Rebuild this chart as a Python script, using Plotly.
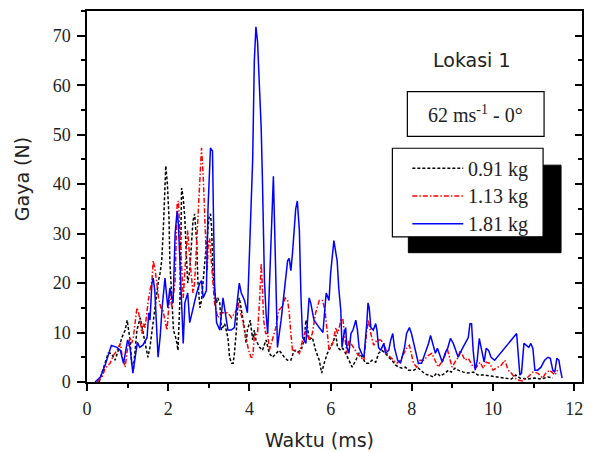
import plotly.graph_objects as go

# ---------------- data ----------------
t_091 = [0.3, 0.37, 0.45, 0.52, 0.6, 0.69, 0.77, 0.86, 0.94, 0.99, 1.06, 1.1, 1.14, 1.18, 1.23, 1.31, 1.36, 1.43, 1.5, 1.55,
         1.6, 1.63, 1.7, 1.76, 1.8, 1.84, 1.88, 1.92, 1.94, 1.98, 2.02, 2.04, 2.09, 2.13, 2.2, 2.24, 2.29, 2.33, 2.37, 2.41,
         2.45, 2.48, 2.53, 2.57, 2.61, 2.65, 2.7, 2.73, 2.78, 2.82, 2.86, 2.93, 2.96, 3.0, 3.04, 3.07, 3.1, 3.14, 3.19, 3.22,
         3.27, 3.31, 3.39, 3.47, 3.51, 3.56, 3.6, 3.63, 3.68, 3.71, 3.75, 3.8, 3.86, 3.92, 3.95, 4.02, 4.08, 4.12, 4.16, 4.25,
         4.32, 4.41, 4.49, 4.57, 4.65, 4.73, 4.79, 4.86, 4.94, 5.02, 5.1, 5.18, 5.27, 5.35, 5.39, 5.43, 5.47, 5.55, 5.63, 5.72,
         5.78, 5.84, 5.92, 6.0, 6.08, 6.13, 6.17, 6.25, 6.3, 6.37, 6.45, 6.53, 6.62, 6.7, 6.78, 6.86, 6.94, 7.02, 7.11, 7.18,
         7.26, 7.35, 7.43, 7.51, 7.6, 7.68, 7.76, 7.84, 7.92, 8.04, 8.16, 8.22, 8.33, 8.42, 8.53, 8.61, 8.7, 8.82, 8.9, 8.97,
         9.06, 9.14, 9.27, 9.39, 9.51, 9.63, 9.8, 9.95, 10.12, 10.29, 10.45, 10.56, 10.66, 10.86, 11.03, 11.18, 11.35, 11.47]
f_091 = [0, 1.8, 3.8, 5.8, 5.8, 4.4, 6.4, 9, 10.5, 12.5, 8.5, 3.8, 2.4, 6.4, 10.5, 13, 11, 7.8, 5, 7,
         10.5, 12.5, 17, 20.5, 22, 24.5, 31, 39.2, 43.7, 40, 33, 24.5, 15, 10.5, 8.5, 6.4, 17, 39.2, 37.2, 33,
         25, 20, 22.5, 28.6, 32.6, 34, 28.6, 20.5, 15, 16.5, 21, 27, 29, 33, 34, 31, 22.5, 18.5, 16, 17,
         16, 10.5, 11.8, 9, 5, 3.8, 3.8, 5.8, 10.5, 15, 17, 14.5, 11.8, 7.8, 10.5, 12.5, 8.5, 10.5, 8.5, 7,
         6.4, 8.5, 5.8, 5, 5.8, 6.4, 5.8, 5, 4.4, 4.4, 6.4, 6, 6.4, 8.5, 12.5, 11, 8.5, 9, 6.4, 4.4,
         1.8, 3.8, 5.8, 7, 8.5, 9.5, 7, 6.4, 6.8, 5.8, 4.4, 3, 4.4, 5.8, 5, 3.8, 3.8, 4.4, 4, 5.8,
         6.4, 5.8, 5, 4.4, 3.4, 3, 2.8, 3, 2.4, 2.4, 2.8, 2.4, 1.6, 1.4, 1, 1.8, 1.2, 1.8, 2.4, 2,
         2.8, 2.4, 2, 1.8, 2, 1.4, 1.4, 1.2, 1, 0.8, 0.6, 1.4, 0.8, 0.6, 0.8, 0.6, 1, 0.8]

t_113 = [0.25, 0.37, 0.45, 0.57, 0.65, 0.74, 0.82, 0.87, 0.94, 1.0, 1.06, 1.1, 1.14, 1.18, 1.23, 1.27, 1.31, 1.35, 1.39, 1.43,
         1.47, 1.51, 1.55, 1.6, 1.63, 1.67, 1.72, 1.76, 1.82, 1.87, 1.97, 2.04, 2.09, 2.17, 2.22, 2.25, 2.29, 2.33, 2.37, 2.41,
         2.45, 2.48, 2.53, 2.57, 2.61, 2.65, 2.71, 2.75, 2.79, 2.82, 2.86, 2.89, 2.93, 2.96, 2.99, 3.02, 3.07, 3.1, 3.14, 3.22,
         3.31, 3.39, 3.47, 3.56, 3.68, 3.71, 3.75, 3.83, 3.9, 3.98, 4.04, 4.08, 4.12, 4.2, 4.25, 4.29, 4.32, 4.35, 4.4, 4.45,
         4.49, 4.57, 4.65, 4.72, 4.78, 4.84, 4.88, 4.94, 4.98, 5.02, 5.06, 5.14, 5.23, 5.31, 5.39, 5.47, 5.55, 5.63, 5.72, 5.8,
         5.86, 5.92, 5.96, 6.05, 6.13, 6.17, 6.2, 6.25, 6.3, 6.35, 6.4, 6.45, 6.5, 6.57, 6.65, 6.74, 6.82, 6.89, 6.93, 6.99,
         7.06, 7.14, 7.23, 7.31, 7.39, 7.47, 7.55, 7.63, 7.72, 7.8, 7.88, 7.94, 7.99, 8.04, 8.12, 8.2, 8.29, 8.41, 8.49, 8.58,
         8.65, 8.73, 8.8, 8.87, 8.93, 8.99, 9.06, 9.14, 9.19, 9.25, 9.31, 9.39, 9.45, 9.51, 9.59, 9.68, 9.76, 9.83, 9.91, 10.0,
         10.12, 10.2, 10.29, 10.37, 10.45, 10.54, 10.61, 10.73, 10.86, 10.98, 11.1, 11.22, 11.3, 11.39, 11.45, 11.52, 11.59]
f_113 = [0, 1, 2.8, 3.8, 5.4, 6.4, 7.8, 5, 3, 7, 9, 7.8, 9, 11.8, 15, 14, 12.5, 9.8, 11.8, 11,
         14.5, 16.5, 18.5, 20.5, 24.5, 23, 20, 17, 15, 14.5, 10.5, 18, 15, 20.5, 36, 36.6, 30, 22.5, 17, 22.5,
         27, 30.6, 25, 21, 18, 20, 30.6, 38, 44, 47.3, 42, 34, 27, 22.5, 28.6, 29, 24, 20.5, 16, 13,
         14, 14, 14, 13, 14.5, 16, 15, 12.5, 9.8, 6.4, 5, 5, 9, 9.8, 16.5, 24, 19, 12.5, 9.8, 9.8,
         6.4, 9, 11, 14.5, 15, 16, 17, 16.5, 14, 9.8, 6.4, 6.4, 5.8, 8.5, 10.5, 8.5, 9.8, 14, 16.5, 16.5,
         14.5, 9.8, 6.4, 7.8, 11, 9.8, 10.5, 12.5, 12.8, 9, 5.8, 8.5, 7.8, 7, 5.8, 5, 4.4, 10.5, 12.5, 9.8,
         7.4, 8.5, 8.5, 7.8, 5.8, 5, 4.4, 3.8, 4.4, 5.8, 7, 7.4, 5.8, 3.8, 3, 4.4, 4.4, 5.4, 5.8, 4,
         3, 4, 5, 6.8, 4.8, 3, 4, 5, 6.4, 5.4, 4.4, 4.8, 3.8, 3, 3, 4, 2.8, 4, 3.8, 2.4,
         3, 3.4, 4.4, 2.4, 1.8, 0.8, 0.4, 0.2, 1, 2, 1.8, 0.8, 1.8, 2.4, 2, 1.4, 2.4]

t_181 = [0.2, 0.33, 0.45, 0.6, 0.74, 0.82, 0.9, 1.0, 1.06, 1.13, 1.24, 1.3, 1.38, 1.48, 1.52, 1.55, 1.6, 1.63, 1.67, 1.75,
         1.8, 1.85, 1.92, 1.99, 2.04, 2.12, 2.17, 2.22, 2.25, 2.29, 2.33, 2.37, 2.41, 2.48, 2.53, 2.61, 2.7, 2.78, 2.82, 2.86,
         2.94, 2.98, 3.04, 3.09, 3.11, 3.14, 3.19, 3.27, 3.35, 3.39, 3.47, 3.55, 3.63, 3.71, 3.75, 3.8, 3.88, 3.95, 4.0, 4.04,
         4.08, 4.12, 4.16, 4.2, 4.25, 4.29, 4.32, 4.35, 4.37, 4.41, 4.45, 4.49, 4.53, 4.57, 4.59, 4.64, 4.69, 4.78, 4.86, 4.94,
         4.98, 5.02, 5.06, 5.1, 5.14, 5.18, 5.23, 5.27, 5.31, 5.39, 5.47, 5.51, 5.59, 5.72, 5.81, 5.89, 5.96, 6.0, 6.08, 6.13,
         6.16, 6.2, 6.25, 6.28, 6.33, 6.37, 6.4, 6.45, 6.5, 6.55, 6.62, 6.66, 6.7, 6.76, 6.82, 6.89, 6.92, 6.95, 6.99, 7.05,
         7.11, 7.14, 7.18, 7.23, 7.31, 7.35, 7.43, 7.48, 7.53, 7.57, 7.65, 7.72, 7.82, 7.87, 7.94, 7.99, 8.09, 8.16, 8.24, 8.33,
         8.41, 8.46, 8.51, 8.58, 8.63, 8.7, 8.75, 8.82, 8.88, 8.95, 9.02, 9.08, 9.14, 9.22, 9.31, 9.39, 9.43, 9.47, 9.51, 9.56,
         9.61, 9.66, 9.72, 9.78, 9.83, 9.89, 9.95, 10.04, 10.58, 10.66, 10.7, 10.76, 10.82, 10.88, 10.93, 10.98, 11.03, 11.1, 11.18, 11.27,
         11.35, 11.41, 11.47, 11.52, 11.57, 11.62, 11.66, 11.7]
f_181 = [0, 1, 3.5, 7.4, 7, 6.4, 3.8, 8.5, 7, 1.8, 8, 7, 7.5, 9, 14, 12.5, 20, 21, 18.5, 5,
         9, 15, 21, 15, 19, 16, 30, 34.6, 32, 22.5, 15, 7.8, 16, 18, 12, 15, 18, 20, 20.5, 17,
         18.5, 35, 47.3, 46.7, 35, 20, 12, 10.5, 17, 14.5, 10.5, 10.5, 11, 17, 20, 18, 16.5, 14, 25, 34,
         45, 64.8, 71.8, 68.8, 60, 51.3, 41, 30, 20.5, 13.8, 9.8, 19, 30, 38.6, 41.6, 24.5, 7, 12.5, 18, 24.5,
         25, 22.5, 26, 30, 35, 36.6, 30.6, 17, 9, 7.8, 17, 16, 12.5, 11, 10, 18, 16.5, 22, 28.6, 26,
         24.5, 19, 14.5, 7, 9.8, 11, 7, 5.8, 9.8, 10.5, 12.5, 10.5, 7, 5.8, 5, 11.8, 16, 15, 11, 10.5,
         11.8, 10.5, 7, 6.4, 7.8, 5.8, 6.4, 8.5, 9.8, 7, 4.4, 3.8, 7, 9.8, 11, 9.8, 6.4, 3.8, 3.8, 5.8,
         7.8, 9.4, 7.8, 5.8, 6.8, 5, 4, 5.8, 6.8, 8.8, 7.8, 6.4, 5, 6.4, 7.8, 9, 11.8, 11.8, 6.4, 2.4,
         4.4, 8.8, 6.4, 4, 6.8, 6.4, 5, 4.4, 9.8, 1.4, 1.8, 7.8, 7.4, 7, 7.8, 6.8, 2.4, 2.4, 3, 4.4,
         5, 4.8, 2.4, 2, 4.8, 4.4, 2.4, 0.8]

series_names = ["0.91 kg", "1.13 kg", "1.81 kg"]
x_ticks = [0, 2, 4, 6, 8, 10, 12]
y_ticks = [0, 10, 20, 30, 40, 50, 60, 70]

# ---------------- layout helpers ----------------
W, H = 593, 452
L, R, T, B = 87, 583, 9, 382


def px(x):
    return (x - L) / (R - L)


def py(y):
    return (B - y) / (B - T)


STY_BLACK = dict(color="black", width=1.5, dash="3px,2px")
STY_RED = dict(color="#ff0000", width=1.5, dash="5px,2px,1.5px,2px")
STY_BLUE = dict(color="#0000ff", width=1.5)

fig = go.Figure()
fig.add_trace(go.Scatter(x=t_091, y=f_091, mode="lines", line=STY_BLACK, name=series_names[0], showlegend=False))
fig.add_trace(go.Scatter(x=t_113, y=f_113, mode="lines", line=STY_RED, name=series_names[1], showlegend=False))
fig.add_trace(go.Scatter(x=t_181, y=f_181, mode="lines", line=STY_BLUE, name=series_names[2], showlegend=False))
# helper trace so the right-hand mirror axis gets drawn
fig.add_trace(go.Scatter(x=[0], y=[0], yaxis="y2", mode="markers", marker=dict(opacity=0),
                         hoverinfo="skip", showlegend=False))

tickfont = dict(family="Liberation Serif", size=18, color="#222")
fig.update_layout(
    width=W, height=H,
    margin=dict(l=L, r=W - R, t=T, b=H - B),
    paper_bgcolor="white", plot_bgcolor="white",
    showlegend=False,
    xaxis=dict(range=[0, 12.19], tickvals=x_ticks, ticks="outside", ticklen=7, tickwidth=1.5,
               tickcolor="black", showline=True, linecolor="black", linewidth=1.5, mirror=True,
               showgrid=False, zeroline=False, tickfont=tickfont, ticklabelstandoff=3,
               minor=dict(dtick=1, tick0=0, ticks="outside", ticklen=4, tickwidth=1.5, tickcolor="black", showgrid=False)),
    yaxis=dict(range=[0, 75], tickvals=y_ticks, ticks="outside", ticklen=8, tickwidth=1.5,
               tickcolor="black", showline=True, linecolor="black", linewidth=1.5, mirror=True,
               showgrid=False, zeroline=False, tickfont=tickfont, ticklabelstandoff=3,
               minor=dict(dtick=5, tick0=0, ticks="outside", ticklen=4, tickwidth=1.5, tickcolor="black", showgrid=False)),
    yaxis2=dict(range=[0, 75], overlaying="y", side="right", tickvals=y_ticks, ticks="inside", ticklen=7,
                tickwidth=1.5, tickcolor="black", showticklabels=False, showline=False, showgrid=False,
                zeroline=False,
                minor=dict(dtick=5, tick0=0, ticks="inside", ticklen=4, tickwidth=1.5, tickcolor="black", showgrid=False)),
)

shapes = []
# text box
shapes.append(dict(type="rect", xref="paper", yref="paper", x0=px(408), x1=px(545), y0=py(135), y1=py(90),
                   line=dict(color="black", width=1.2), fillcolor="white", layer="above"))
# legend shadow
shapes.append(dict(type="rect", xref="paper", yref="paper", x0=px(409), x1=px(562), y0=py(252), y1=py(164),
                   line=dict(color="black", width=1), fillcolor="black", layer="above"))
# legend box
shapes.append(dict(type="rect", xref="paper", yref="paper", x0=px(393), x1=px(544), y0=py(236), y1=py(147),
                   line=dict(color="black", width=1.2), fillcolor="white", layer="above"))
legend_rows = [167, 195, 223]
for yy, sty in zip(legend_rows, [STY_BLACK, STY_RED, STY_BLUE]):
    shapes.append(dict(type="line", xref="paper", yref="paper", x0=px(413), x1=px(464), y0=py(yy), y1=py(yy),
                       line=sty, layer="above"))
fig.update_layout(shapes=shapes)

annotations = [
    dict(text="Lokasi 1", x=px(473), y=py(58), xref="paper", yref="paper", showarrow=False,
         xanchor="center", yanchor="middle", font=dict(family="DejaVu Sans", size=19, color="#222")),
    dict(text="62 ms<sup>-1</sup> - 0°", x=px(476), y=py(113), xref="paper", yref="paper", showarrow=False,
         xanchor="center", yanchor="middle", font=dict(family="Liberation Serif", size=20, color="#222")),
    dict(text="Gaya (N)", x=px(22), y=py(178), xref="paper", yref="paper", showarrow=False, textangle=-90,
         xanchor="center", yanchor="middle", font=dict(family="DejaVu Sans", size=19, color="#222")),
    dict(text="Waktu (ms)", x=px(320), y=py(440), xref="paper", yref="paper", showarrow=False,
         xanchor="center", yanchor="middle", font=dict(family="DejaVu Sans", size=19, color="#222")),
]
for yy, name in zip(legend_rows, series_names):
    annotations.append(dict(text=name, x=px(467), y=py(yy + 1), xref="paper", yref="paper", showarrow=False,
                            xanchor="left", yanchor="middle",
                            font=dict(family="Liberation Serif", size=20, color="#222")))
fig.update_layout(annotations=annotations)

fig.write_html("out.html")
